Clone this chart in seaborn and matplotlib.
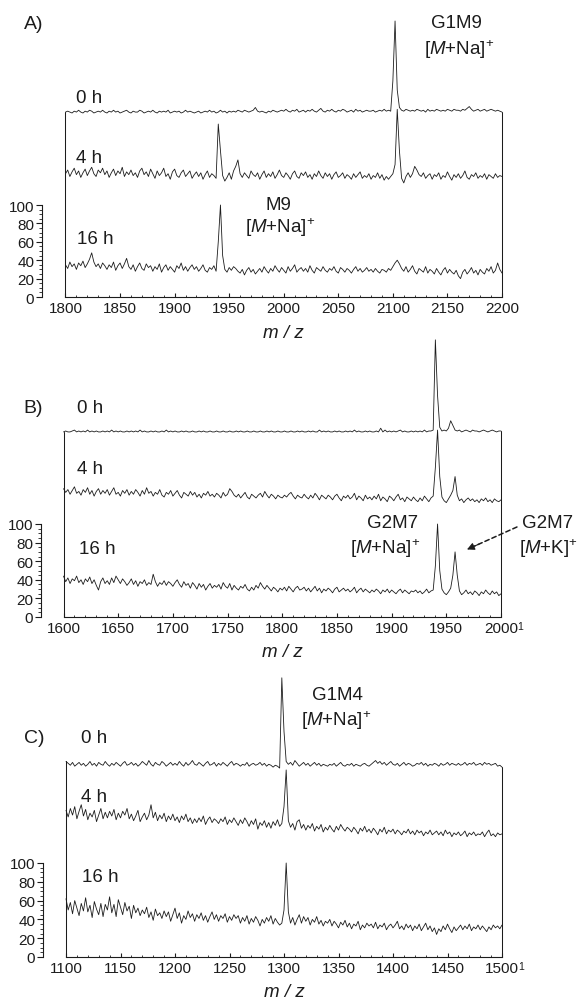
import numpy as np
import pandas as pd
import matplotlib
matplotlib.use("Agg")
import matplotlib.pyplot as plt
import seaborn as sns
from matplotlib.ticker import FixedLocator

# ---------------- data (intensity, % of base peak), sampled every 2 m/z ----------------
# Panel A: m/z 1800-2200
A_mz_start, A_mz_end, A_step = 1800, 2200, 2
A_0h = [1, 2, 1, 0, 2, 1, 3, 1, 0, 2,
        1, 3, 2, 0, 1, 2, 1, 3, 1, 0,
        2, 1, 3, 1, 2, 0, 1, 2, 3, 1,
        0, 2, 1, 1, 3, 2, 0, 1, 2, 1,
        3, 1, 0, 2, 1, 2, 1, 3, 0, 1,
        2, 1, 2, 0, 1, 3, 1, 2, 1, 0,
        1, 2, 0, 1, 2, 1, 3, 1, 2, 0,
        1, 3, 1, 2, 0, 2, 1, 2, 1, 3,
        2, 1, 3, 2, 1, 2, 3, 6, 2, 1,
        2, 1, 0, 2, 1, 3, 2, 1, 2, 3,
        2, 4, 2, 1, 3, 2, 4, 1, 2, 3,
        1, 3, 2, 4, 2, 1, 3, 5, 2, 1,
        3, 2, 4, 2, 1, 3, 2, 4, 3, 1,
        2, 3, 1, 4, 2, 3, 1, 2, 3, 2,
        2, 3, 1, 2, 3, 2, 4, 2, 3, 2,
        35, 100, 25, 6, 3, 2, 4, 3, 2, 3,
        2, 4, 3, 2, 3, 1, 4, 2, 3, 2,
        4, 3, 2, 3, 2, 4, 3, 2, 4, 3,
        3, 2, 4, 3, 5, 7, 4, 2, 3, 4,
        2, 3, 4, 2, 3, 4, 3, 2, 3, 2,
        1]
A_4h = [30, 34, 27, 32, 36, 29, 33, 26, 31, 35,
        28, 33, 37, 30, 27, 34, 31, 36, 29, 33,
        26, 31, 35, 28, 33, 30, 37, 27, 32, 29,
        34, 28, 31, 26, 33, 36, 29, 32, 27, 35,
        30, 25, 33, 28, 31, 36, 27, 30, 24, 32,
        35, 28, 26, 31, 34, 27, 30, 33, 25, 29,
        32, 27, 31, 24, 29, 33, 26, 30, 28, 25,
        84, 55, 28, 22, 26, 31, 24, 33, 38, 45,
        30, 26, 31, 28, 25, 33, 29, 27, 31, 24,
        29, 33, 26, 30, 27, 32, 25, 29, 34, 28,
        26, 31, 28, 24, 30, 33, 27, 25, 31, 28,
        32, 26, 29, 24, 30, 27, 33, 28, 25, 31,
        27, 30, 24, 29, 32, 26, 28, 31, 25, 29,
        27, 24, 30, 26, 29, 32, 25, 28, 26, 30,
        24, 28, 26, 31, 25, 29, 23, 27, 24, 27,
        30, 40, 100, 55, 25, 20, 27, 31, 26, 30,
        38, 34, 29, 27, 31, 25, 28, 30, 24, 29,
        27, 31, 24, 28, 26, 32, 27, 23, 29, 26,
        30, 25, 28, 33, 26, 24, 29, 27, 31, 25,
        28, 26, 30, 24, 29, 27, 25, 30, 26, 28,
        27]
A_16h = [35, 31, 38, 33, 36, 30, 37, 34, 39, 32,
         36, 41, 48, 38, 33, 36, 31, 37, 34, 30,
         35, 32, 38, 29, 34, 37, 31, 36, 42, 33,
         30, 35, 28, 33, 37, 31, 29, 36, 32, 34,
         28, 33, 30, 36, 27, 32, 35, 29, 33, 30,
         27, 34, 31, 37, 29, 33, 28, 32, 35, 30,
         33, 28, 31, 35, 29, 27, 32, 30, 34, 28,
         60, 100, 45, 30, 27, 32, 29, 33, 31, 28,
         26, 30, 24, 29, 32, 27, 30, 25, 28, 31,
         27, 33, 29, 26, 31, 28, 34, 30, 27, 32,
         29, 26, 33, 28, 31, 35, 27, 30, 32, 28,
         31, 27, 34, 29, 26, 32, 30, 28, 33, 29,
         27, 31, 29, 33, 28, 26, 32, 30, 27, 31,
         29, 26, 30, 33, 28, 31, 27, 29, 32, 28,
         30, 27, 31, 28, 26, 30, 29, 27, 31, 29,
         33, 37, 40, 36, 31, 28, 33, 27, 30, 34,
         28, 25, 31, 29, 27, 33, 26, 30, 28, 25,
         31, 27, 24, 29, 32, 26, 30, 27, 25, 29,
         23, 20, 27, 30, 25, 28, 32, 26, 29, 24,
         30, 27, 25, 31, 28, 33, 26, 29, 37, 30,
         26]

# Panel B: m/z 1600-2000
B_mz_start, B_mz_end, B_step = 1600, 2000, 2
B_0h = [1, 2, 1, 1, 2, 3, 1, 2, 1, 2,
        1, 3, 1, 2, 1, 2, 1, 1, 2, 1,
        2, 1, 3, 1, 2, 1, 2, 1, 1, 2,
        1, 2, 1, 2, 1, 3, 1, 2, 1, 1,
        2, 1, 2, 1, 1, 2, 1, 3, 1, 2,
        1, 2, 1, 1, 2, 1, 2, 1, 1, 2,
        1, 1, 2, 1, 2, 1, 1, 2, 1, 1,
        2, 1, 1, 2, 1, 1, 2, 1, 1, 2,
        1, 2, 1, 1, 2, 1, 1, 2, 1, 1,
        2, 1, 1, 2, 1, 2, 1, 1, 2, 1,
        1, 2, 1, 1, 2, 1, 1, 2, 1, 2,
        1, 1, 2, 1, 2, 1, 1, 3, 1, 2,
        1, 2, 1, 1, 2, 1, 2, 1, 1, 2,
        1, 2, 1, 3, 1, 2, 1, 1, 2, 1,
        2, 1, 1, 2, 1, 5, 1, 3, 1, 2,
        1, 2, 1, 2, 3, 1, 2, 1, 1, 2,
        1, 2, 1, 2, 1, 3, 1, 2, 2, 3,
        100, 40, 6, 2, 3, 2, 5, 13, 8, 3,
        2, 3, 1, 2, 3, 2, 1, 3, 2, 2,
        1, 2, 3, 2, 1, 2, 3, 2, 1, 2,
        2]
B_4h = [37, 33, 36, 31, 35, 39, 32, 34, 30, 36,
        33, 38, 31, 35, 29, 34, 37, 31, 35, 32,
        36, 30, 34, 38, 31, 33, 29, 35, 32, 36,
        30, 34, 31, 36, 33, 29, 35, 31, 38, 32,
        34, 29, 33, 31, 36, 30, 28, 33, 31, 35,
        29, 32, 35, 30, 27, 33, 31, 29, 34, 30,
        33, 28, 31, 27, 32, 30, 34, 29, 31, 28,
        32, 30, 27, 33, 29, 31, 37, 34, 30, 28,
        31, 27, 30, 33, 28, 26, 31, 29, 27, 30,
        32, 28, 34, 30, 27, 31, 29, 26, 30, 28,
        27, 30, 28, 31, 33, 29, 26, 30, 28, 27,
        31, 28, 26, 30, 27, 32, 29, 25, 30, 28,
        26, 30, 28, 25, 29, 31, 27, 24, 29, 27,
        30, 26, 28, 32, 25, 29, 27, 24, 30, 26,
        28, 25, 29, 26, 31, 24, 28, 26, 23, 29,
        27, 24, 28, 31, 25, 27, 23, 28, 26, 24,
        28, 25, 23, 27, 24, 29, 26, 23, 27, 29,
        60, 100, 50, 28, 24, 22, 26, 30, 35, 50,
        30, 24, 26, 22, 25, 27, 24, 26, 23, 25,
        22, 26, 24, 27, 23, 25, 22, 26, 24, 23,
        25]
B_16h = [44, 38, 42, 36, 41, 39, 44, 37, 40, 35,
         41, 38, 43, 36, 40, 34, 29, 38, 42, 36,
         39, 35, 42, 37, 44, 40, 36, 41, 38, 34,
         37, 41, 35, 39, 33, 38, 36, 40, 34, 37,
         35, 46, 38, 33, 37, 35, 39, 34, 38, 36,
         33, 37, 40, 35, 32, 38, 34, 36, 31, 37,
         34, 30, 36, 32, 35, 29, 33, 36, 31, 34,
         32, 35, 30, 37, 33, 31, 36, 29, 34, 31,
         29, 33, 31, 35, 30, 28, 32, 29, 34, 31,
         37, 33, 30, 34, 31, 28, 32, 30, 27, 31,
         29, 32, 28, 33, 30, 27, 31, 33, 29, 30,
         32, 28, 31, 27, 30, 33, 28, 31, 26, 30,
         28, 31, 29, 26, 30, 32, 27, 29, 31, 28,
         30, 27, 29, 32, 26, 29, 31, 27, 30, 28,
         26, 29, 27, 30, 28, 25, 29, 27, 30, 26,
         29, 27, 25, 28, 30, 26, 29, 27, 25, 28,
         27, 29, 26, 28, 25, 27, 30, 26, 28, 29,
         55, 100, 50, 30, 26, 24, 27, 31, 45, 70,
         45, 28, 24, 26, 29, 25, 27, 24, 28, 26,
         23, 27, 25, 29, 26, 24, 28, 25, 27, 23,
         25]

# Panel C: m/z 1100-1500
C_mz_start, C_mz_end, C_step = 1100, 1500, 2
C_0h = [8, 6, 4, 7, 3, 5, 7, 4, 6, 3,
        5, 8, 4, 6, 3, 7, 5, 4, 8, 5,
        3, 6, 4, 7, 5, 3, 6, 8, 4, 5,
        7, 4, 6, 3, 5, 8, 6, 4, 9, 5,
        3, 7, 5, 4, 8, 6, 3, 5, 7, 4,
        6, 4, 8, 5, 3, 7, 4, 6, 9, 5,
        4, 7, 5, 3, 6, 8, 4, 5, 7, 3,
        6, 4, 7, 5, 3, 6, 8, 4, 6, 5,
        3, 5, 4, 7, 3, 5, 6, 4, 5, 7,
        4, 6, 3, 5, 4, 2, 4, 3, 1, 97,
        40, 8, 5, 7, 4, 9, 6, 3, 5, 7,
        4, 6, 3, 5, 7, 4, 6, 3, 5, 4,
        3, 5, 4, 6, 3, 5, 7, 4, 3, 5,
        4, 6, 3, 5, 4, 3, 5, 6, 4, 3,
        5, 7, 9, 6, 8, 5, 7, 4, 6, 8,
        5, 4, 6, 3, 5, 7, 4, 6, 5, 3,
        4, 6, 5, 7, 4, 6, 3, 5, 4, 6,
        5, 3, 6, 4, 5, 7, 4, 6, 5, 4,
        6, 4, 5, 7, 4, 6, 5, 7, 4, 5,
        6, 4, 7, 5, 6, 4, 5, 6, 3, 4,
        2]
C_4h = [56, 49, 58, 51, 60, 47, 55, 62, 50, 57,
        46, 53, 49, 56, 44, 51, 58, 47, 54, 48,
        55, 50, 57, 46, 53, 48, 55, 51, 58, 47,
        52, 45, 50, 56, 44, 49, 53, 46, 51, 62,
        48, 54, 45, 51, 47, 53, 44, 50, 46, 52,
        45, 49, 43, 50, 46, 52, 44, 48, 42, 47,
        43, 48, 44, 50, 41, 46, 49, 43, 47, 45,
        42, 47, 44, 49, 41, 46, 43, 48, 44, 40,
        46, 42, 48, 44, 39, 45, 41, 47, 36, 43,
        40, 45, 38, 43, 37, 44, 40, 46, 39, 42,
        60, 99, 45, 38, 42, 35, 44, 46, 37, 41,
        35, 40, 37, 42, 34, 39, 36, 41, 33, 38,
        35, 40, 36, 33, 39, 35, 41, 37, 34, 38,
        36, 33, 38, 35, 31, 37, 34, 39, 33, 36,
        32, 37, 34, 30, 36, 33, 38, 31, 35, 33,
        36, 31, 35, 33, 30, 34, 32, 36, 31, 34,
        30, 35, 32, 34, 29, 33, 31, 35, 30, 32,
        34, 30, 33, 29, 35, 31, 33, 28, 32, 30,
        33, 29, 31, 34, 28, 32, 30, 33, 29, 31,
        30, 33, 28, 32, 35, 29, 31, 28, 32, 30,
        31]
C_16h = [62, 50, 58, 46, 60, 52, 44, 57, 49, 63,
         48, 55, 42, 59, 51, 45, 57, 43, 56, 50,
         64, 47, 56, 43, 61, 53, 45, 58, 49, 54,
         41, 55, 47, 52, 44, 50, 46, 53, 42, 48,
         39, 51, 44, 47, 41, 49, 43, 48, 38, 45,
         52, 41, 47, 36, 44, 40, 49, 42, 46, 38,
         45, 41, 47, 39, 44, 37, 43, 48, 40, 45,
         38, 44, 41, 46, 37, 43, 39, 45, 41, 44,
         36, 42, 38, 44, 35, 41, 37, 43, 39, 33,
         40, 36, 42, 38, 44, 35, 41, 37, 34, 36,
         50, 100, 48, 36, 42, 34, 40, 45, 36, 43,
         38, 42, 34, 40, 37, 43, 35, 39, 33, 38,
         36, 40, 33, 38, 35, 31, 37, 34, 39, 32,
         36, 30, 35, 33, 38, 29, 34, 31, 36, 33,
         35, 31, 37, 30, 34, 32, 36, 29, 33, 35,
         31, 34, 38, 30, 33, 29, 35, 31, 34, 28,
         33, 30, 35, 28, 32, 36, 29, 33, 27, 31,
         24, 30, 27, 33, 29, 35, 30, 26, 32, 28,
         31, 34, 29, 33, 30, 35, 28, 32, 30, 34,
         29, 33, 30, 27, 32, 29, 34, 31, 33, 30,
         34]

trace_names = ["0 h", "4 h", "16 h"]
y_ticks = [0, 20, 40, 60, 80, 100]

# ---------------- style ----------------
sns.set_theme(style="white")
plt.rcParams["font.family"] = ["Liberation Sans", "DejaVu Sans"]
plt.rcParams["mathtext.fontset"] = "custom"
plt.rcParams["mathtext.rm"] = "Liberation Sans"
plt.rcParams["mathtext.it"] = "Liberation Sans:italic"
plt.rcParams["mathtext.bf"] = "Liberation Sans:bold"

W, H = 581, 1003
fig = plt.figure(figsize=(W / 100, H / 100), dpi=100)
INK = "#1c1c1c"
RIGHT_PX = 506
NA = r"[$\mathit{M}$+Na]$^{+}$"
KK = r"[$\mathit{M}$+K]$^{+}$"

panels = [
    dict(name="A)", start=A_mz_start, end=A_mz_end, step=A_step,
         traces=[A_0h, A_4h, A_16h], offsets=[200, 104, 0],
         spine_px=42, x0_px=65.5, x1_px=502, y0_px=298, y100_px=206, top_px=5,
         letter=(1771, 297), labels=[(1821.5, 217), (1821.5, 152), (1827, 64)],
         notes=[("G1M9", 2158.7, 298), (NA, 2160.6, 270), ("M9", 1994.7, 101), (NA, 1996.6, 76)],
         sup=False, arrow=None),
    dict(name="B)", start=B_mz_start, end=B_mz_end, step=B_step,
         traces=[B_0h, B_4h, B_16h], offsets=[198, 101, 0],
         spine_px=41, x0_px=63.5, x1_px=501, y0_px=618, y100_px=525, top_px=333,
         letter=(1572.6, 225), labels=[(1624.2, 225), (1624.2, 160), (1630.6, 74)],
         notes=[("G2M7", 1900.9, 102), (NA, 1893.9, 75), ("G2M7", 2043, 102), (KK, 2043, 75)],
         sup=True, arrow=((2014.6, 96.8), (1968.9, 72.6))),
    dict(name="C)", start=C_mz_start, end=C_mz_end, step=C_step,
         traces=[C_0h, C_4h, C_16h], offsets=[200, 100, 0],
         spine_px=43, x0_px=66, x1_px=502, y0_px=958, y100_px=864, top_px=670,
         letter=(1070.6, 233), labels=[(1125.7, 234), (1125.7, 171), (1131.2, 86)],
         notes=[("G1M4", 1348.6, 279), (NA, 1347.7, 252)],
         sup=True, arrow=None),
]

for p in panels:
    xs = (p["x1_px"] - p["x0_px"]) / (p["end"] - p["start"])
    ys = (p["y0_px"] - p["y100_px"]) / 100.0
    ax = fig.add_axes([p["spine_px"] / W, (H - p["y0_px"]) / H,
                       (RIGHT_PX - p["spine_px"]) / W, (p["y0_px"] - p["top_px"]) / H])
    ax.set_facecolor("none")
    mz = np.arange(p["start"], p["end"] + 1, p["step"])
    frames = []
    for name, vals, off in zip(trace_names, p["traces"], p["offsets"]):
        assert len(vals) == len(mz), (p["name"], name, len(vals))
        frames.append(pd.DataFrame({"mz": mz, "y": np.asarray(vals, float) + off, "trace": name}))
    df = pd.concat(frames, ignore_index=True)
    sns.lineplot(data=df, x="mz", y="y", hue="trace", units="trace", estimator=None,
                 palette=[INK] * 3, lw=0.6, legend=False, ax=ax)
    # frame lines at both ends, from the axis up to the top trace
    top_level = p["traces"][0][0] + p["offsets"][0]
    top_level_r = p["traces"][0][-1] + p["offsets"][0]
    ax.plot([p["start"], p["start"]], [0, top_level], color=INK, lw=0.75, clip_on=False)
    ax.plot([p["end"], p["end"]], [0, top_level_r], color=INK, lw=0.75, clip_on=False)

    ax.set_xlim(p["start"] - (p["x0_px"] - p["spine_px"]) / xs,
                p["end"] + (RIGHT_PX - p["x1_px"]) / xs)
    ax.set_ylim(0, (p["y0_px"] - p["top_px"]) / ys)
    for s in ["top", "right"]:
        ax.spines[s].set_visible(False)
    ax.spines["left"].set_bounds(0, 100)
    ax.spines["bottom"].set_bounds(p["start"], p["end"])
    for s in ["left", "bottom"]:
        ax.spines[s].set_color(INK)
        ax.spines[s].set_linewidth(0.8)
    ax.set_yticks(y_ticks)
    ax.yaxis.set_minor_locator(FixedLocator(np.arange(0, 101, 5)))
    xt = list(range(p["start"], p["end"] + 1, 50))
    ax.set_xticks(xt)
    ax.set_xticklabels([str(v) for v in xt])
    ax.xaxis.set_minor_locator(FixedLocator(np.arange(p["start"], p["end"] + 1, 10)))
    ax.tick_params(axis="y", which="major", direction="out", length=4, width=0.8,
                   color=INK, labelsize=11, pad=1.5, labelcolor=INK)
    ax.tick_params(axis="y", which="minor", direction="out", length=2, width=0.6, color=INK)
    ax.tick_params(axis="x", which="major", direction="in", length=3, width=0.8,
                   color=INK, labelsize=11, pad=3, labelcolor=INK)
    ax.tick_params(axis="x", which="minor", direction="in", length=1.5, width=0.6, color=INK)
    ax.tick_params(bottom=True, left=True, which="both")
    ax.set_ylabel("")
    ax.set_xlabel("m / z", style="italic", fontsize=13.5, color=INK)
    cx = ((p["x0_px"] + p["x1_px"]) / 2 - p["spine_px"]) / (RIGHT_PX - p["spine_px"])
    ax.xaxis.set_label_coords(cx, -35.0 / (p["y0_px"] - p["top_px"]))
    ax.xaxis.label.set_va("center")

    ax.text(p["letter"][0], p["letter"][1], p["name"], fontsize=14, ha="center",
            va="center", color=INK, clip_on=False)
    for (tx, ty), name in zip(p["labels"], trace_names):
        ax.text(tx, ty, name, fontsize=13.5, ha="center", va="center", color=INK)
    for txt, tx, ty in p["notes"]:
        ax.text(tx, ty, txt, fontsize=13.5, ha="center", va="center", color=INK, clip_on=False)
    if p["sup"]:
        ax.annotate("1", xy=(p["end"], 0), xycoords="data", xytext=(12, -3),
                    textcoords="offset points", fontsize=7.5, ha="left", va="top",
                    color=INK, annotation_clip=False)
    if p["arrow"] is not None:
        (tx0, ty0), (hx, hy) = p["arrow"]
        ax.annotate("", xy=(hx, hy), xytext=(tx0, ty0),
                    arrowprops=dict(arrowstyle="-", linestyle=(0, (3, 2)), color=INK,
                                    lw=1.1, shrinkA=0, shrinkB=6),
                    annotation_clip=False)
        ax.annotate("", xy=(hx, hy), xytext=(hx + (tx0 - hx) * 0.25, hy + (ty0 - hy) * 0.25),
                    arrowprops=dict(arrowstyle="-|>", color=INK, lw=0.8, mutation_scale=11,
                                    shrinkA=0, shrinkB=0),
                    annotation_clip=False)

fig.savefig("out.png", dpi=100)
